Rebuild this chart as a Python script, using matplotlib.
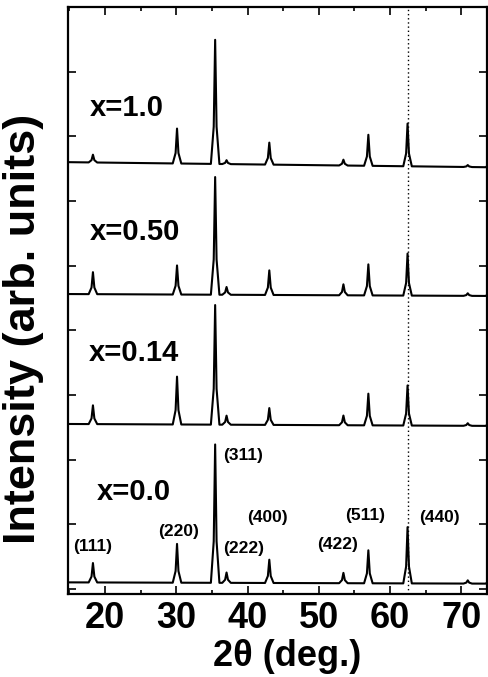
import matplotlib
matplotlib.use('Agg')
import matplotlib.pyplot as plt
from matplotlib.ticker import MultipleLocator

plt.rcParams['font.family'] = ['Liberation Sans', 'DejaVu Sans']

# Reflection positions (2theta, deg.) and labels
peak_pos = [18.3, 30.1, 35.45, 37.05, 43.05, 53.45, 56.95, 62.45, 70.9, 74.0]
hkl = ['(111)', '(220)', '(311)', '(222)', '(400)', '(422)', '(511)', '(440)']

# Peak heights above background for each composition (arb. units)
samples = ['x=0.0', 'x=0.14', 'x=0.50', 'x=1.0']
h_000 = [0.30, 0.60, 2.14, 0.16, 0.36, 0.16, 0.51, 0.87, 0.05, 0.10]
h_014 = [0.29, 0.74, 1.85, 0.14, 0.26, 0.15, 0.49, 0.62, 0.04, 0.10]
h_050 = [0.34, 0.45, 1.82, 0.12, 0.38, 0.17, 0.48, 0.65, 0.04, 0.10]
h_100 = [0.12, 0.54, 1.92, 0.06, 0.34, 0.09, 0.48, 0.66, 0.03, 0.10]
heights = [h_000, h_014, h_050, h_100]

# Background level (offset) at the low and high angle ends
bg_start = [0.10, 2.55, 4.56, 6.60]
bg_end = [0.08, 2.52, 4.53, 6.52]

x_start, x_end = 14.8, 74.6


def pattern(pos, h, b0, b1):
    # piecewise line through the background and every peak apex
    offs = [-0.6, -0.2, 0.0, 0.2, 0.6]
    frac = [0.0, 0.3, 1.0, 0.3, 0.0]
    xs = [x_start]
    for p in pos:
        xs += [p + o for o in offs]
    xs.append(x_end)
    amp = {}
    for p, hh in zip(pos, h):
        for o, f in zip(offs, frac):
            amp[p + o] = hh * f
    ys = []
    for x in xs:
        base = b0 + (b1 - b0) * (x - x_start) / (x_end - x_start)
        ys.append(base + amp.get(x, 0.0))
    return xs, ys


fig = plt.figure(figsize=(4.88, 6.77), dpi=100, facecolor='white')
ax = fig.add_axes([68 / 488, (677 - 594) / 677, (487 - 68) / 488, (594 - 7) / 677])

for h, b0, b1 in zip(heights, bg_start, bg_end):
    xs, ys = pattern(peak_pos, h, b0, b1)
    ax.plot(xs, ys, color='black', linewidth=1.5)

# (440) reference line
ax.axvline(62.45, color='black', linestyle=(0, (1, 2)), linewidth=1.0)

# Composition labels
label_x = [18.9, 17.75, 17.9, 17.9]
label_y = [1.50, 3.65, 5.52, 7.44]
for s, lx, ly in zip(samples, label_x, label_y):
    ax.text(lx, ly, s, fontsize=21, fontweight='bold', ha='left', va='center')

# Miller indices on the x=0.0 pattern
hkl_x = [18.31, 30.25, 39.38, 39.38, 42.75, 52.58, 56.52, 66.91]
hkl_y = [0.65, 0.89, 2.06, 0.63, 1.11, 0.69, 1.14, 1.11]
for s, hx, hy in zip(hkl, hkl_x, hkl_y):
    ax.text(hx, hy, s, fontsize=12.5, fontweight='bold', ha='center', va='center')

ax.set_xlim(14.8, 73.6)
ax.set_ylim(-0.08, 9.0)
ax.xaxis.set_major_locator(MultipleLocator(10))
ax.xaxis.set_minor_locator(MultipleLocator(5))
ax.yaxis.set_major_locator(MultipleLocator(1))
ax.tick_params(axis='both', which='both', direction='in', top=True, right=True, width=1.2)
ax.tick_params(axis='x', which='major', length=6, labelsize=26, pad=5)
ax.tick_params(axis='x', which='minor', length=3)
ax.tick_params(axis='y', which='major', length=6, labelleft=False)
for lab in ax.get_xticklabels():
    lab.set_fontweight('bold')
for sp in ax.spines.values():
    sp.set_linewidth(1.6)

fig.text(287 / 488, 1 - 657 / 677, '2θ (deg.)', fontsize=26, fontweight='bold',
         ha='center', va='center')
fig.text(24 / 488, 1 - 329 / 677, 'Intensity (arb. units)', fontsize=32.5,
         fontweight='bold', ha='center', va='center', rotation=90)

fig.savefig('out.png', dpi=100, facecolor='white')
